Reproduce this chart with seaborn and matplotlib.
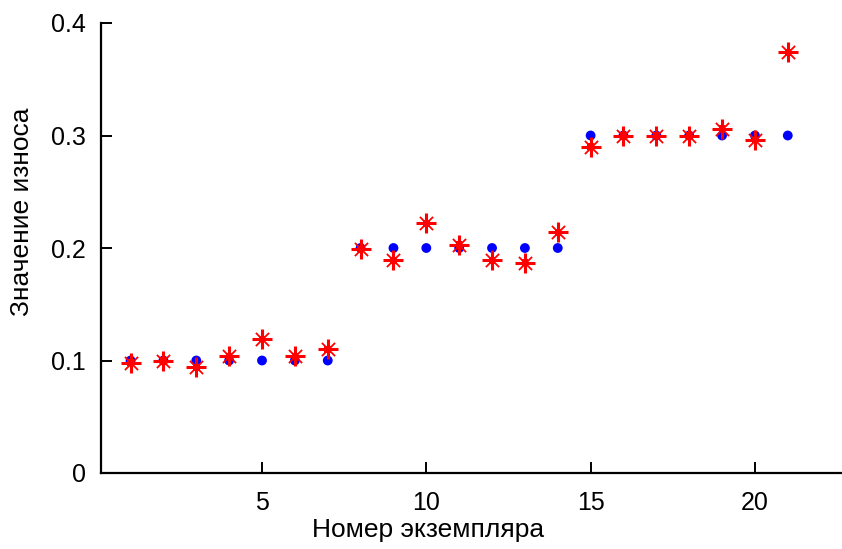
import matplotlib
matplotlib.use("Agg")
import matplotlib.pyplot as plt
import seaborn as sns
import pandas as pd

specimen = list(range(1, 22))
true_wear = [0.1]*7 + [0.2]*7 + [0.3]*7
est_wear = [0.098, 0.100, 0.094, 0.104, 0.119, 0.104, 0.110,
            0.199, 0.189, 0.222, 0.203, 0.189, 0.187, 0.214,
            0.290, 0.300, 0.300, 0.300, 0.306, 0.296, 0.374]
xticks = [5, 10, 15, 20]
yticks = [0, 0.1, 0.2, 0.3, 0.4]
yticklabels = ["0", "0.1", "0.2", "0.3", "0.4"]

sns.set_style("white")
plt.rcParams['font.family'] = ['Liberation Sans', 'DejaVu Sans']
plt.rcParams['text.color'] = 'black'
plt.rcParams['axes.labelcolor'] = 'black'

df = pd.DataFrame({"x": specimen, "true": true_wear, "est": est_wear})

fig = plt.figure(figsize=(8.42, 5.49), dpi=100)
ax = fig.add_axes([101/842, 76/549, 1 - 101/842, 450/549])

sns.scatterplot(data=df, x="x", y="true", ax=ax, color="#0000ff", marker="o",
                s=50, edgecolor="none", zorder=2, legend=False)
sns.scatterplot(data=df, x="x", y="est", ax=ax, color="#ff0000", marker="+",
                s=210, linewidth=2.2, zorder=3, legend=False)
sns.scatterplot(data=df, x="x", y="est", ax=ax, color="#ff0000", marker="x",
                s=90, linewidth=1.3, zorder=3, legend=False)
sns.scatterplot(data=df, x="x", y="est", ax=ax, color="#ff0000", marker="s",
                s=22, edgecolor="none", zorder=4, legend=False)

ax.set_xlim(0.1, 22.65)
ax.set_ylim(0, 0.4)
ax.set_xticks(xticks)
ax.set_xticklabels([str(t) for t in xticks])
ax.set_yticks(yticks)
ax.set_yticklabels(yticklabels)

for s in ["top", "right"]:
    ax.spines[s].set_visible(False)
for s in ["left", "bottom"]:
    ax.spines[s].set_color("black")
    ax.spines[s].set_linewidth(1.6)

ax.tick_params(direction="in", length=8, width=1.4, colors="black",
               labelcolor="black", labelsize=18, pad=13,
               bottom=True, left=True, top=False, right=False)
ax.tick_params(axis="y", pad=11)

ax.set_xlabel("Номер экземпляра", fontsize=19, va="center", color="black")
ax.xaxis.set_label_coords((428-101)/741, (473-530)/450)
ax.set_ylabel("Значение износа", fontsize=19, va="center", color="black")
ax.yaxis.set_label_coords((22-101)/741, (473-212)/450)

fig.savefig("out.png", dpi=100)
